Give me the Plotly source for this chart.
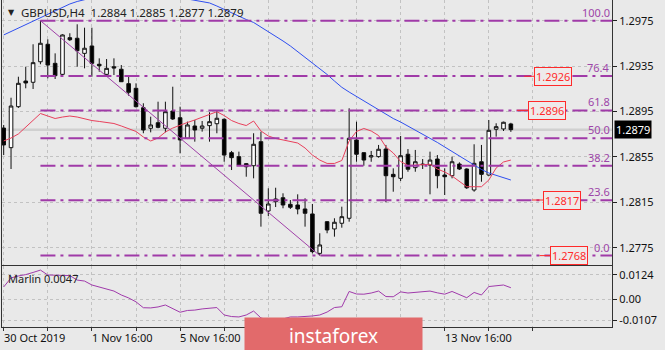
import plotly.graph_objects as go

# ---------------- data ----------------
opens = [1.28804, 1.28631, 1.28992, 1.29218, 1.29207, 1.29388, 1.29542, 1.29374, 1.29277, 1.29600,
         1.29595, 1.29462, 1.29527, 1.29366, 1.29277, 1.29344, 1.29322, 1.29195, 1.29154, 1.28983,
         1.28802, 1.28851, 1.28802, 1.28954, 1.28895, 1.28714, 1.28822, 1.28802, 1.28825, 1.28842,
         1.28881, 1.28587, 1.28552, 1.28490, 1.28472, 1.28684, 1.28073, 1.28155, 1.28190, 1.28132,
         1.28126, 1.28091, 1.28047, 1.27700, 1.27979, 1.27915, 1.27965, 1.28009, 1.28699, 1.28587,
         1.28549, 1.28552, 1.28619, 1.28396, 1.28361, 1.28573, 1.28455, 1.28481, 1.28478, 1.28531,
         1.28390, 1.28384, 1.28487, 1.28443, 1.28258, 1.28507, 1.28390, 1.28793, 1.28796, 1.28840]
highs = [1.28831, 1.29071, 1.29256, 1.29344, 1.29542, 1.29750, 1.29586, 1.29462, 1.29630, 1.29639,
         1.29718, 1.29688, 1.29688, 1.29418, 1.29412, 1.29418, 1.29359, 1.29271, 1.29198, 1.29022,
         1.28904, 1.29036, 1.29036, 1.29168, 1.28992, 1.28860, 1.28875, 1.28866, 1.28943, 1.28954,
         1.28890, 1.28602, 1.28596, 1.28496, 1.28758, 1.28772, 1.28273, 1.28278, 1.28229, 1.28170,
         1.28220, 1.28185, 1.28135, 1.27877, 1.27985, 1.28009, 1.28111, 1.28978, 1.28860, 1.28590,
         1.28602, 1.28655, 1.28655, 1.28449, 1.28734, 1.28619, 1.28611, 1.28531, 1.28596, 1.28566,
         1.28449, 1.28552, 1.28502, 1.28449, 1.28661, 1.28655, 1.28875, 1.28846, 1.28860, 1.28850]
lows = [1.28566, 1.28443, 1.28981, 1.29154, 1.29148, 1.29366, 1.29242, 1.29236, 1.29256, 1.29571,
        1.29344, 1.29330, 1.29256, 1.29300, 1.29256, 1.29271, 1.29210, 1.29089, 1.28985, 1.28758,
        1.28766, 1.28802, 1.28766, 1.28875, 1.28581, 1.28707, 1.28684, 1.28772, 1.28684, 1.28758,
        1.28507, 1.28434, 1.28472, 1.28375, 1.28361, 1.27935, 1.28029, 1.28108, 1.28097, 1.28091,
        1.28044, 1.27935, 1.27700, 1.27680, 1.27877, 1.27847, 1.27926, 1.27979, 1.28507, 1.28472,
        1.28507, 1.28543, 1.28150, 1.28243, 1.28337, 1.28419, 1.28419, 1.28443, 1.28220, 1.28273,
        1.28214, 1.28361, 1.28434, 1.28267, 1.28243, 1.28331, 1.28384, 1.28728, 1.28778, 1.28770]
closes = [1.28655, 1.28998, 1.29198, 1.29201, 1.29380, 1.29551, 1.29359, 1.29265, 1.29624, 1.29582,
          1.29485, 1.29507, 1.29374, 1.29353, 1.29330, 1.29333, 1.29212, 1.29119, 1.28992, 1.28787,
          1.28831, 1.28810, 1.28948, 1.28884, 1.28699, 1.28831, 1.28787, 1.28822, 1.28860, 1.28890,
          1.28566, 1.28543, 1.28478, 1.28463, 1.28661, 1.28053, 1.28135, 1.28179, 1.28126, 1.28106,
          1.28091, 1.28053, 1.27715, 1.27774, 1.27906, 1.27974, 1.28023, 1.28714, 1.28573, 1.28522,
          1.28560, 1.28617, 1.28384, 1.28375, 1.28560, 1.28441, 1.28507, 1.28485, 1.28522, 1.28384,
          1.28375, 1.28507, 1.28443, 1.28278, 1.28493, 1.28396, 1.28784, 1.28816, 1.28855, 1.28790]
ma_red = [1.28690, 1.28716, 1.28752, 1.28813, 1.28875, 1.28932, 1.28910, 1.28888, 1.28901, 1.28910,
          1.28901, 1.28884, 1.28870, 1.28862, 1.28853, 1.28844, 1.28822, 1.28796, 1.28774, 1.28725,
          1.28690, 1.28716, 1.28769, 1.28804, 1.28831, 1.28853, 1.28875, 1.28897, 1.28919, 1.28948,
          1.28914, 1.28870, 1.28844, 1.28826, 1.28866, 1.28778, 1.28734, 1.28712, 1.28699, 1.28685,
          1.28672, 1.28628, 1.28566, 1.28522, 1.28492, 1.28492, 1.28518, 1.28690, 1.28774, 1.28800,
          1.28778, 1.28738, 1.28637, 1.28584, 1.28509, 1.28474, 1.28478, 1.28485, 1.28485, 1.28443,
          1.28417, 1.28381, 1.28337, 1.28287, 1.28287, 1.28287, 1.28346, 1.28452, 1.28505, 1.28522]
ma_blue = [1.29624, 1.29654, 1.29683, 1.29712, 1.29743, 1.29773, 1.29803, 1.29835, 1.29866, 1.29897,
           1.29919, 1.29936, 1.29954, 1.29967, 1.29976, 1.29985, 1.29989, 1.29994, 1.29994, 1.29994,
           1.29989, 1.29985, 1.29976, 1.29967, 1.29954, 1.29941, 1.29929, 1.29919, 1.29906, 1.29879,
           1.29848, 1.29822, 1.29791, 1.29760, 1.29734, 1.29694, 1.29654, 1.29615, 1.29571, 1.29527,
           1.29478, 1.29430, 1.29381, 1.29329, 1.29276, 1.29218, 1.29163, 1.29121, 1.29082, 1.29042,
           1.29007, 1.28967, 1.28923, 1.28888, 1.28857, 1.28822, 1.28787, 1.28747, 1.28714, 1.28677,
           1.28637, 1.28597, 1.28553, 1.28514, 1.28474, 1.28439, 1.28408, 1.28386, 1.28364, 1.28346]
marlin = [0.0063, 0.0109, 0.0119, 0.0126, 0.0137, 0.0149, 0.0124, 0.0124, 0.0124, 0.0121,
          0.0098, 0.0093, 0.0073, 0.0062, 0.0053, 0.0042, 0.0022, 0.0007, -0.0013, -0.0043,
          -0.0044, -0.0039, -0.0029, -0.0049, -0.0066, -0.0057, -0.0055, -0.0049, -0.0044, -0.0042,
          -0.0080, -0.0088, -0.0090, -0.0080, -0.0060, -0.0095, -0.0106, -0.0110, -0.0100, -0.0090,
          -0.0090, -0.0088, -0.0085, -0.0080, -0.0065, -0.0042, -0.0038, 0.0040, 0.0027, 0.0026,
          0.0032, 0.0042, 0.0014, 0.0013, 0.0038, 0.0032, 0.0035, 0.0040, 0.0042, 0.0033,
          0.0026, 0.0040, 0.0024, 0.0008, 0.0035, 0.0022, 0.0065, 0.0070, 0.0073, 0.0059]

price_ticks = [1.2775, 1.2815, 1.2855, 1.2895, 1.2935, 1.2975]
marlin_ticks = [-0.0107, 0.0, 0.0124]
marlin_tick_text = ["-0.0107", "0.00", "0.0124"]
# labels visible in the reference (the others sit under the watermark)
date_labels = ["30 Oct 2019", "1 Nov 16:00", "5 Nov 16:00", "13 Nov 16:00"]
date_label_idx = [0, 12, 24, 60]
fib_high, fib_low = 1.2975, 1.2768
fib_high_idx, fib_low_idx = 5, 43
fib_pcts = [100.0, 76.4, 61.8, 50.0, 38.2, 23.6, 0.0]
price_marks = [1.2926, 1.2896, 1.2817, 1.2768]
price_mark_idx = [74.8, 73.85, 75.9, 76.9]
last_price = 1.2879
header = "GBPUSD,H4\u00a0\u00a01.2884\u00a01.2885\u00a01.2877\u00a01.2879"
marlin_label = "Marlin 0.0047"

idx = list(range(len(opens)))

# ---------------- figure ----------------
FONT = "Noto Sans"
BG = "#e9e9e9"
GRID = "#c2c2c2"
FIBC = "#a03aa8"
W, H = 665, 350
ML, MR, MT, MB = 2, 53, 0, 23
PW, PH = W - ML - MR, H - MT - MB
XR = [-0.23, 82.76]
YR = [1.29932 - 265 * 0.0000881, 1.29932]
Y2R = [(299.3 - 327) * 0.00051, (299.3 - 266) * 0.00051]
main_dom = [(PH - 265) / PH, 1.0]
sub_dom = [0.0, (PH - 266) / PH]


def px_x(p):
    return (p - ML) / PW


def px_y(p):
    return (PH - (p - MT)) / PH


fig = go.Figure()

fig.add_trace(go.Scatter(x=idx, y=ma_blue, mode="lines",
                         line=dict(color="#2f4ff0", width=1), hoverinfo="skip"))
fig.add_trace(go.Scatter(x=idx, y=ma_red, mode="lines",
                         line=dict(color="#e8405c", width=1), hoverinfo="skip"))
fig.add_trace(go.Candlestick(
    x=idx, open=opens, high=highs, low=lows, close=closes,
    increasing=dict(line=dict(color="#111111", width=1), fillcolor="white"),
    decreasing=dict(line=dict(color="#111111", width=1), fillcolor="black"),
    whiskerwidth=0))
fig.add_trace(go.Scatter(x=idx, y=marlin, mode="lines", xaxis="x2", yaxis="y2",
                         line=dict(color="#a03aab", width=1), hoverinfo="skip"))

shapes = []
# bid line
shapes.append(dict(type="line", xref="x", yref="y", x0=XR[0], x1=XR[1], y0=last_price, y1=last_price,
                   line=dict(color="#d0d0d0", width=2.5), layer="below"))
# fib levels
rng = fib_high - fib_low
annotations = []
for p in fib_pcts:
    lv = fib_low + rng * p / 100.0
    shapes.append(dict(type="line", xref="x", yref="y", x0=fib_high_idx, x1=XR[1], y0=lv, y1=lv,
                       line=dict(color=FIBC, width=2, dash="15px,5px,3px,5px")))
    annotations.append(dict(xref="paper", yref="y", x=px_x(611), y=lv, xanchor="right", yanchor="bottom",
                            text=f"{p:.1f}", showarrow=False, borderpad=0,
                            font=dict(family=FONT, size=11, color="#9d45a8")))
# fib base line
shapes.append(dict(type="line", xref="x", yref="y", x0=fib_high_idx, x1=fib_low_idx, y0=fib_high, y1=fib_low,
                   line=dict(color="#a040a8", width=1)))
# red price marks
for v, i in zip(price_marks, price_mark_idx):
    shapes.append(dict(type="line", xref="x", yref="y", x0=i - 4.0, x1=i - 2.4, y0=v, y1=v,
                       line=dict(color="#ff2a2a", width=1)))
    annotations.append(dict(xref="x", yref="y", x=i, y=v, text=f"{v:.4f}", showarrow=False,
                            bordercolor="#ff2a2a", borderwidth=1, borderpad=1, bgcolor="#eeeaea",
                            font=dict(family=FONT, size=11, color="#ff2a2a")))

# current price box
annotations.append(dict(xref="paper", yref="y", x=px_x(614), y=last_price, xanchor="left", yanchor="middle",
                        text=f"{last_price:.4f}", showarrow=False, bgcolor="black", borderpad=1,
                        font=dict(family=FONT, size=11, color="white")))
# header
annotations.append(dict(xref="paper", yref="paper", x=px_x(6), y=px_y(12), xanchor="left", yanchor="middle",
                        text="\u25bc", showarrow=False, font=dict(family="DejaVu Sans", size=8, color="#222")))
annotations.append(dict(xref="paper", yref="paper", x=px_x(19), y=px_y(12), xanchor="left", yanchor="middle",
                        text=header, showarrow=False, font=dict(family=FONT, size=11.5, color="#222")))
# indicator label
annotations.append(dict(xref="paper", yref="paper", x=px_x(6), y=px_y(278), xanchor="left", yanchor="middle",
                        text=marlin_label, showarrow=False, font=dict(family=FONT, size=11, color="#222")))
# date labels
for i, t in zip(date_label_idx, date_labels):
    annotations.append(dict(xref="x2", yref="paper", x=i, y=px_y(337.5), xanchor="left", yanchor="middle",
                            xshift=-2, text=t, showarrow=False, font=dict(family=FONT, size=11, color="#111")))
# watermark
annotations.append(dict(xref="paper", yref="paper", x=px_x(333.5), y=px_y(336), xanchor="center",
                        yanchor="middle", width=177, height=36, bgcolor="#e26a6b", borderpad=0,
                        text="instaforex", showarrow=False,
                        font=dict(family=FONT, size=19, color="white")))

grid_vals = list(range(0, 73, 6))
axis_common = dict(showline=True, linecolor="#333", linewidth=1, mirror=True, zeroline=False)

fig.update_layout(
    width=W, height=H, margin=dict(l=ML, r=MR, t=MT, b=MB, pad=0),
    paper_bgcolor=BG, plot_bgcolor=BG, showlegend=False,
    shapes=shapes, annotations=annotations,
    xaxis=dict(domain=[0, 1], range=XR, anchor="y", tickvals=grid_vals, showticklabels=False, ticks="",
               showgrid=True, gridcolor=GRID, griddash="3px,3px", gridwidth=1,
               rangeslider=dict(visible=False), **axis_common),
    yaxis=dict(domain=main_dom, range=YR, side="right", tickvals=price_ticks,
               ticktext=[f"{v:.4f}" for v in price_ticks], ticks="outside", ticklen=4, tickcolor="#222",
               showgrid=True, gridcolor=GRID, griddash="3px,3px", gridwidth=1,
               tickfont=dict(family=FONT, size=11, color="#111"), **axis_common),
    xaxis2=dict(domain=[0, 1], range=XR, anchor="y2", matches="x", tickvals=grid_vals, showticklabels=False,
                ticks="outside", ticklen=3, tickcolor="#333",
                showgrid=True, gridcolor=GRID, griddash="3px,3px", gridwidth=1, **axis_common),
    yaxis2=dict(domain=sub_dom, range=Y2R, side="right", anchor="x2", tickvals=marlin_ticks,
                ticktext=marlin_tick_text, ticks="outside", ticklen=4, tickcolor="#222",
                showgrid=True, gridcolor=GRID, griddash="3px,3px", gridwidth=1,
                tickfont=dict(family=FONT, size=11, color="#111"), **axis_common),
)

fig.write_html("out.html")
